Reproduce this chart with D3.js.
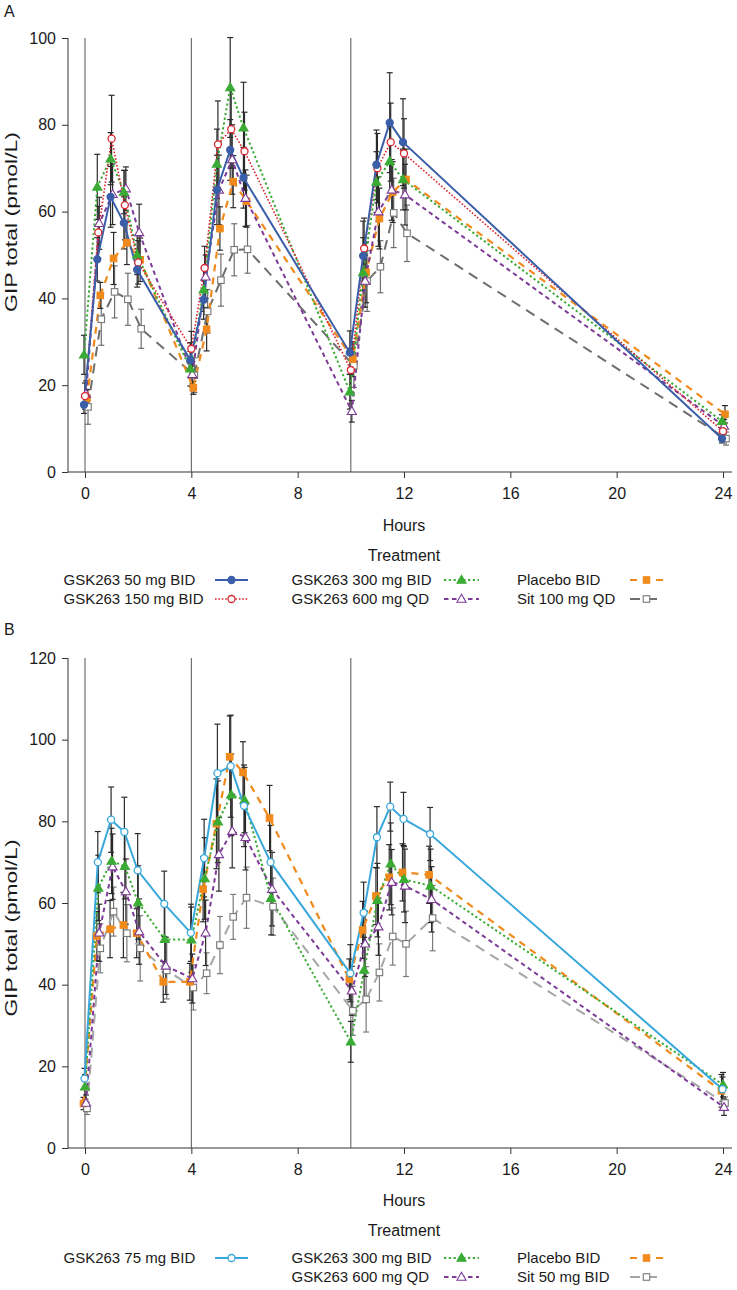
<!DOCTYPE html>
<html><head><meta charset="utf-8">
<script src="https://cdn.jsdelivr.net/npm/d3@7"></script>
<style>
body{margin:0;background:#fff}
svg{display:block}
text{font-family:"Liberation Sans",Arial,Helvetica,sans-serif;fill:#1a1a1a}
</style></head>
<body><svg id="chart" width="737" height="1290"></svg>
<script>
// ---------- DATA ----------
const hourTicks = [0,4,8,12,16,20,24];
const doseTimes = [0,4,10];

// Panel A
const timesA = [0,0.5,1,1.5,2,4,4.5,5,5.5,6,10,10.5,11,11.5,12,24];
const yTicksA = [0,20,40,60,80,100];
const namesA = ["GSK263 50 mg BID","GSK263 150 mg BID","GSK263 300 mg BID","GSK263 600 mg QD","Placebo BID","Sit 100 mg QD"];
const a50      = [15.5,49,63.4,57.4,46.6,25.8,39.7,65,74.2,67.8,27.5,49.8,70.8,80.5,76,7.7];
const a50Err   = [2,5,7,6,4,4,4.5,8,7,7,5,8,8,11.5,10,1];
const a150     = [17.5,55.2,76.8,61.5,48.3,28.4,47,75.5,79,73.9,23.5,51.5,70,76,73.4,9.4];
const a150Err  = [3,6,10,8,5,4,5,10,9,9,5,7,8,9,8,1.5];
const a300     = [27,65.7,72.2,64.5,50,23.8,42,71,88.6,79.3,18.5,46,66.8,71.6,67.4,11.7];
const a300Err  = [4.5,7.5,6,5,4.5,4,5,8,11.5,10.5,4,8,7,8,7,1.5];
const a600     = [18,57.3,64,65.3,55.2,22.5,45,65,72,63.1,14,44,60,65,63.9,10.6];
const a600Err  = [3,6,7,5,6.5,3,5,8,8,6.5,2.5,6,8,7,7,1.5];
const aPlacebo = [17,40.7,49.2,52.8,48.9,19.4,32.9,56.1,66.9,62.4,26,46,58.4,64.5,67.4,13.3];
const aPlaceboErr = [2,3,6,5,5,1.5,5,5,6,6,4,7,7,7,7,2];
const aSit     = [15,35.2,41.5,39.8,33,22.3,37,44.2,51.2,51.3,24.5,44,47.3,59.7,55,7.7];
const aSitErr  = [4,6,6,6,4.5,4,5,6,6,5.5,5,7,6,8,6.5,1.5];

// Panel B
const timesB = [0,0.5,1,1.5,2,3,4,4.5,5,5.5,6,7,10,10.5,11,11.5,12,13,24];
const yTicksB = [0,20,40,60,80,100,120];
const namesB = ["GSK263 75 mg BID","GSK263 300 mg BID","GSK263 600 mg QD","Placebo BID","Sit 50 mg BID"];
const b75      = [17,70,80.4,77.4,68,59.8,52.7,71,91.8,93.5,83.8,70,42.8,57.6,76.1,83.6,80.6,76.9,14.4];
const b75Err   = [2.5,7.5,8,8.5,9,8,7,9.5,12,12.5,10,9,7,7.5,7.5,6,6.5,6.5,3];
const b300     = [15,63.7,70.3,69,60.1,51.1,51,66,79.9,86.5,85.2,61.2,26,43.6,60.7,69.6,65.8,64.2,15.5];
const b300Err  = [3,8,8,8,9,8,8,10,10,10,8,9,5,8,9,10,8,9,3];
const b600     = [11,52.7,68.9,62.8,53,44.6,41.5,52.7,71.9,77.6,76.1,63.4,38.5,50,54.2,65.1,64.2,60.9,10];
const b600Err  = [2,7,8,8,8,7,6,8,9,9,8,9,6,8,7,8,9,8,2];
const bPlacebo = [10.9,51.9,53.6,54.6,52.6,40.7,40.7,63.4,79.4,95.8,92,80.8,41.3,53.4,61.7,66.3,67.5,66.9,14];
const bPlaceboErr = [1.5,6,7,8,6,5,4.5,8,11,10,7.5,8,5,7,7,8,7,7,4];
const bSit     = [9.7,48.9,57.9,52.6,48.9,43.5,39.3,42.8,49.7,56.6,61.3,59.1,33.6,36.4,43,51.8,50,56.3,11];
const bSitErr  = [1.5,6,6,7,8,7,5.5,5,7,5.5,7.5,7,6,8,7,7,8,8,1.5];

// ---------- DRAWING ----------
const svg = d3.select("#chart");
const x = d3.scaleLinear().domain([0,24]).range([85,723]);

const styles = {
  blue:   {color:"#3b5ea9", dash:null,   w:2,   sym:"circle",   fill:true,  err:"#2b2b2b"},
  red:    {color:"#d9262e", dash:"1.6,1.8", w:1.6, sym:"circle", fill:false, err:"#2b2b2b"},
  green:  {color:"#3aab34", dash:"2.2,2.6", w:2, sym:"triangle", fill:true,  err:"#2b2b2b"},
  purple: {color:"#7d3a96", dash:"4.5,3.5", w:2, sym:"triangle", fill:false, err:"#2b2b2b"},
  orange: {color:"#f08a1c", dash:"7,6",  w:2.2, sym:"square",   fill:true,  err:"#2b2b2b"},
  grey:   {color:"#6e6e6e", dash:"10,7", w:2,   sym:"square",   fill:false, err:"#6e6e6e"},
  lblue:  {color:"#37a7dc", dash:null,   w:2,   sym:"circle",   fill:false, err:"#2b2b2b"},
  lgrey:  {color:"#a6a6a6", dash:"10,7", w:2,   sym:"square",   fill:false, err:"#7a7a7a"}
};

function marker(g, st, cx, cy){
  if(st.sym==="circle"){
    g.append("circle").attr("cx",cx).attr("cy",cy).attr("r",3.5)
      .attr("fill",st.fill?st.color:"#fff").attr("stroke",st.color).attr("stroke-width",1.3);
  } else if(st.sym==="square"){
    const s = 6.5;
    g.append("rect").attr("x",cx-s/2).attr("y",cy-s/2).attr("width",s).attr("height",s)
      .attr("fill",st.fill?st.color:"#fff").attr("stroke",st.fill?st.color:"#777").attr("stroke-width",1.1);
  } else {
    g.append("path").attr("d",d3.symbol(d3.symbolTriangle,36)())
      .attr("transform",`translate(${cx},${cy+0.6})`)
      .attr("fill",st.fill?st.color:"#fff").attr("stroke",st.color).attr("stroke-width",1.1);
  }
}

function drawPanel(p){
  const y = d3.scaleLinear().domain([0,p.yMax]).range([p.bottom,p.top]);
  const g = svg.append("g");

  svg.append("text").attr("x",4).attr("y",p.letterY).attr("font-size",16).text(p.letter);

  g.append("line").attr("x1",68).attr("x2",68).attr("y1",p.top).attr("y2",p.bottom).attr("stroke","#333");
  g.append("line").attr("x1",68).attr("x2",732).attr("y1",p.bottom).attr("y2",p.bottom).attr("stroke","#333");

  const ya = g.append("g").attr("transform","translate(68,0)")
    .call(d3.axisLeft(y).tickValues(p.yTicks).tickSize(6).tickSizeOuter(0).tickPadding(6));
  ya.select(".domain").remove();
  ya.selectAll("text").attr("font-size",16).attr("font-family",null).attr("fill","#1a1a1a");
  ya.selectAll("line").attr("stroke","#333");

  const xa = g.append("g").attr("transform",`translate(0,${p.bottom})`)
    .call(d3.axisBottom(x).tickValues(hourTicks).tickSize(6).tickSizeOuter(0).tickPadding(10));
  xa.select(".domain").remove();
  xa.selectAll("text").attr("font-size",16).attr("font-family",null).attr("fill","#1a1a1a");
  xa.selectAll("line").attr("stroke","#333");

  g.selectAll(".dose").data(doseTimes).join("line")
    .attr("x1",d=>x(d)).attr("x2",d=>x(d)).attr("y1",p.top).attr("y2",p.bottom)
    .attr("stroke","#555").attr("stroke-width",1);

  const yl = (p.top+p.bottom)/2 - p.titleShift;
  g.append("text").attr("transform",`translate(17,${yl}) rotate(-90)`)
    .attr("text-anchor","middle").attr("font-size",17)
    .attr("textLength",p.titleLen).attr("lengthAdjust","spacingAndGlyphs")
    .text("GIP total (pmol/L)");
  g.append("text").attr("x",404).attr("y",p.hoursY).attr("text-anchor","middle").attr("font-size",16).text("Hours");
  g.append("text").attr("x",404).attr("y",p.hoursY+30).attr("text-anchor","middle").attr("font-size",16).text("Treatment");

  p.series.forEach(s=>{
    const st = styles[s.style];
    const eg = g.append("g");
    p.times.forEach((t,i)=>{
      const cx = x(t)+s.jit, lo = y(s.values[i]-s.errors[i]), hi = y(s.values[i]+s.errors[i]);
      eg.append("line").attr("x1",cx).attr("x2",cx).attr("y1",lo).attr("y2",hi).attr("stroke",st.err).attr("stroke-width",1.2);
      eg.append("line").attr("x1",cx-3).attr("x2",cx+3).attr("y1",lo).attr("y2",lo).attr("stroke",st.err).attr("stroke-width",1.2);
      eg.append("line").attr("x1",cx-3).attr("x2",cx+3).attr("y1",hi).attr("y2",hi).attr("stroke",st.err).attr("stroke-width",1.2);
    });
  });
  p.series.forEach(s=>{
    const st = styles[s.style];
    const line = d3.line().x((d,i)=>x(p.times[i])+s.jit).y(d=>y(d));
    g.append("path").attr("d",line(s.values)).attr("fill","none").attr("stroke",st.color)
      .attr("stroke-width",st.w).attr("stroke-dasharray",st.dash);
  });
  p.series.forEach(s=>{
    const st = styles[s.style];
    const mg = g.append("g");
    p.times.forEach((t,i)=>marker(mg, st, x(t)+s.jit, y(s.values[i])));
  });

  const cols = [{tx:63.5, l1:215, l2:248},{tx:291.5, l1:444, l2:479},{tx:517, l1:630, l2:663}];
  p.legend.forEach(e=>{
    const c = cols[e.col], by = p.legendY + e.row*19;
    const s = p.series.find(q=>q.name===p.names[e.idx]);
    const st = styles[s.style];
    g.append("text").attr("x",c.tx).attr("y",by).attr("font-size",15).text(s.name);
    g.append("line").attr("x1",c.l1).attr("x2",c.l2).attr("y1",by-5).attr("y2",by-5)
      .attr("stroke",st.color).attr("stroke-width",st.w).attr("stroke-dasharray",st.dash);
    marker(g, st, (c.l1+c.l2)/2, by-5);
  });
}

drawPanel({
  letter:"A", letterY:17, top:38, bottom:472, yMax:100, yTicks:yTicksA, times:timesA,
  titleShift:33, titleLen:180, hoursY:531, legendY:585, names:namesA,
  series:[
    {name:namesA[5], values:aSit, errors:aSitErr, style:"grey", jit:3},
    {name:namesA[4], values:aPlacebo, errors:aPlaceboErr, style:"orange", jit:2},
    {name:namesA[3], values:a600, errors:a600Err, style:"purple", jit:1},
    {name:namesA[2], values:a300, errors:a300Err, style:"green", jit:-1},
    {name:namesA[1], values:a150, errors:a150Err, style:"red", jit:0},
    {name:namesA[0], values:a50, errors:a50Err, style:"blue", jit:-1}
  ],
  legend:[{idx:0,col:0,row:0},{idx:1,col:0,row:1},{idx:2,col:1,row:0},{idx:3,col:1,row:1},{idx:4,col:2,row:0},{idx:5,col:2,row:1}]
});
drawPanel({
  letter:"B", letterY:635, top:658, bottom:1148, yMax:120, yTicks:yTicksB, times:timesB,
  titleShift:-25, titleLen:177, hoursY:1206, legendY:1263, names:namesB,
  series:[
    {name:namesB[4], values:bSit, errors:bSitErr, style:"lgrey", jit:2},
    {name:namesB[3], values:bPlacebo, errors:bPlaceboErr, style:"orange", jit:-1.5},
    {name:namesB[2], values:b600, errors:b600Err, style:"purple", jit:1},
    {name:namesB[1], values:b300, errors:b300Err, style:"green", jit:0},
    {name:namesB[0], values:b75, errors:b75Err, style:"lblue", jit:-0.5}
  ],
  legend:[{idx:0,col:0,row:0},{idx:1,col:1,row:0},{idx:2,col:1,row:1},{idx:3,col:2,row:0},{idx:4,col:2,row:1}]
});
</script></body></html>
